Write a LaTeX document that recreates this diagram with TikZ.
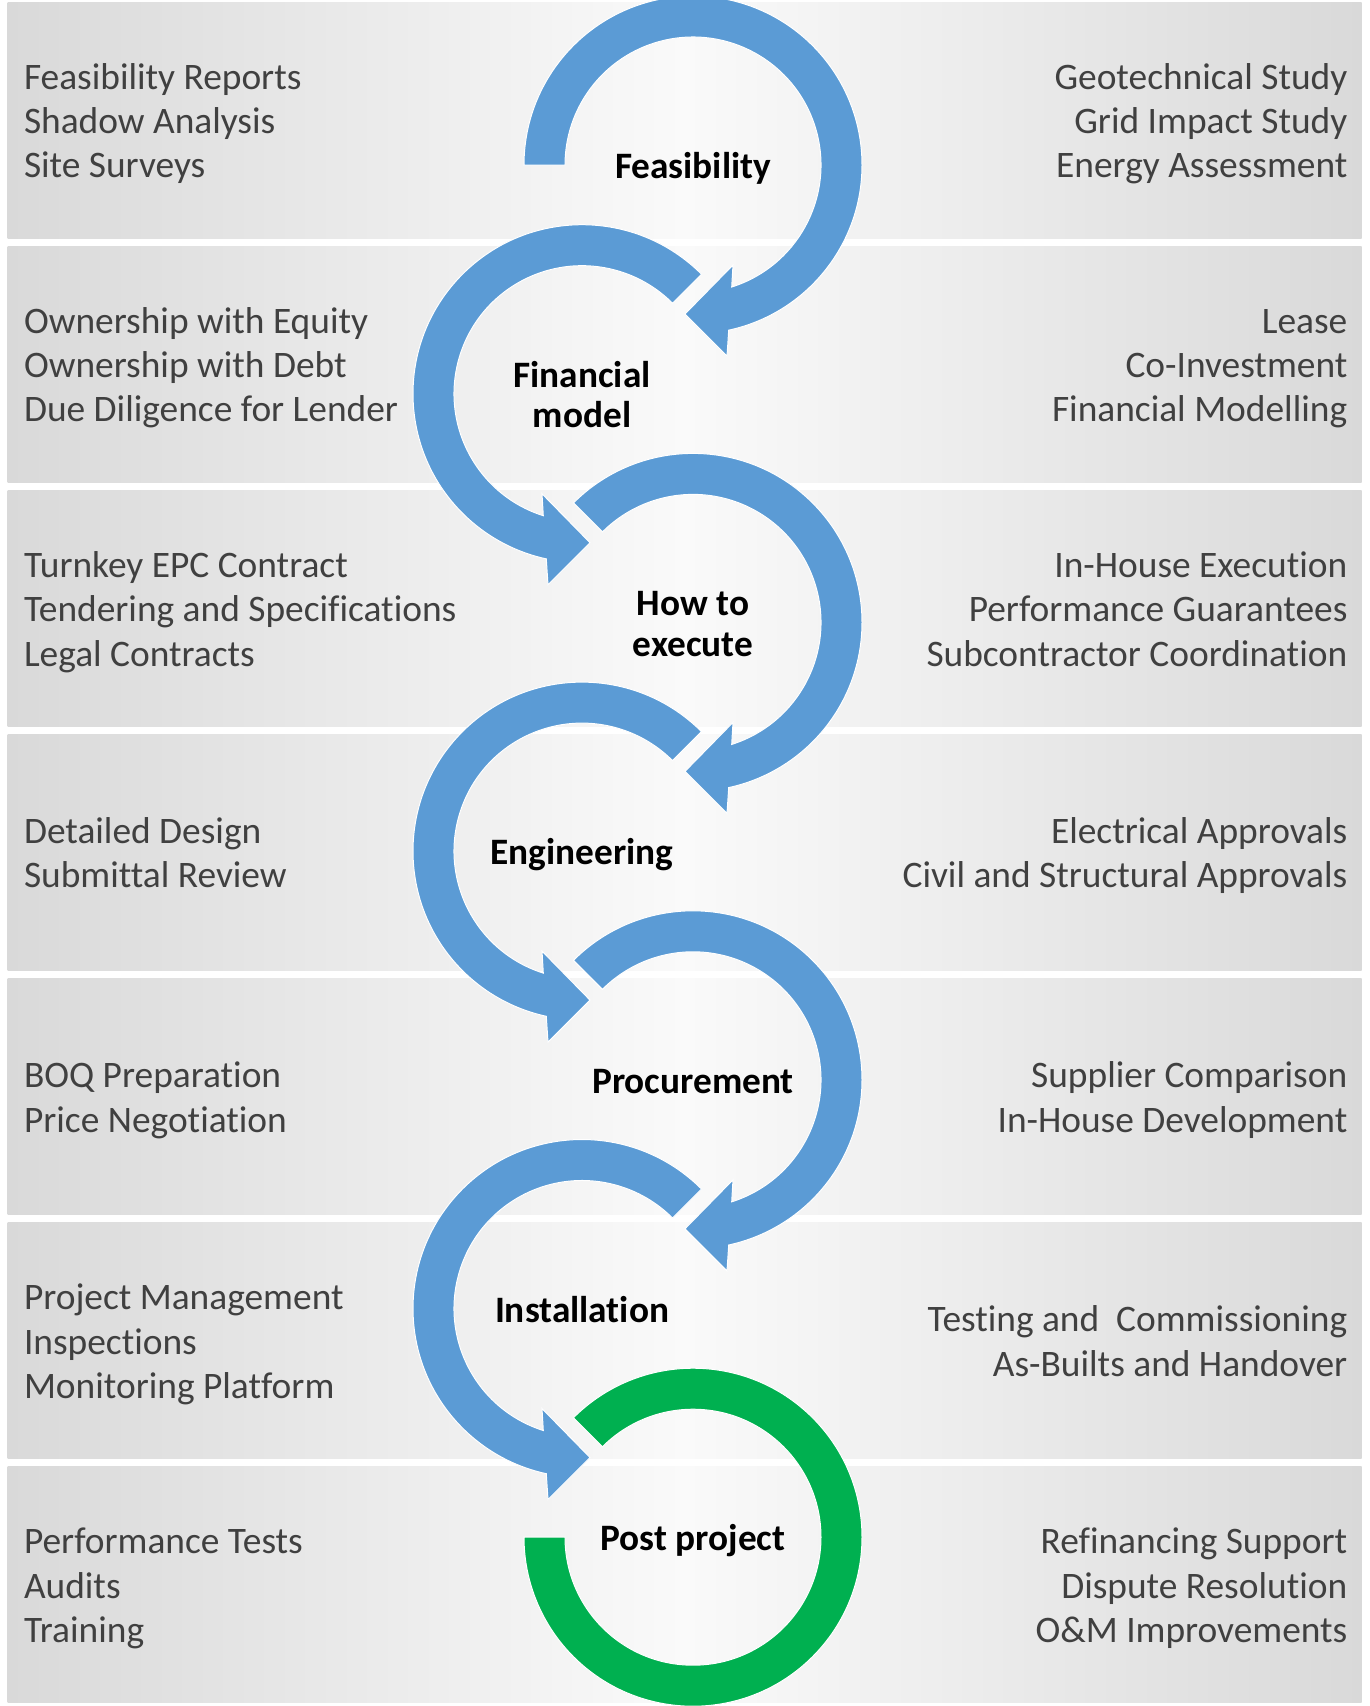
\documentclass[tikz,border=0pt]{standalone}
\usepackage{fontspec}
\setmainfont{Carlito}[Ligatures={NoCommon}]
\definecolor{loopblue}{HTML}{5B9BD5}
\definecolor{loopgreen}{HTML}{00B050}
\definecolor{sidetext}{HTML}{404040}
\definecolor{bandedge}{HTML}{D9D9D9}
\definecolor{bandmid}{HTML}{FAFAFA}

% struts giving every text line the same height and depth
\newcommand{\sidestrut}{\rule[-8.65pt]{0pt}{44.3pt}}
\newcommand{\stagestrut}{\rule[-8.65pt]{0pt}{40.3pt}}

% curved arrow round a stage: #1 centre, #2 start angle, #3 xscale (1 or -1)
\newcommand{\looparrow}[3]{%
  \fill[loopblue, draw=white, line width=1pt, shift={(#1)}, xscale=#3]
    (#2:169) arc[start angle=#2, end angle=-77.8, radius=169]
    -- (34,-191) -- (-8,-149) -- (40,-100)
    -- (-72.4:128) arc[start angle=-72.4, end angle=#2, radius=128] -- cycle;}

\begin{document}
\begin{tikzpicture}[x=1pt,y=1pt,
  band/.style={left color=bandedge, right color=bandedge, middle color=bandmid},
  sidefont/.style={font=\fontsize{37.4}{44.3}\selectfont, text=sidetext, inner sep=0pt},
  lefttext/.style={sidefont, anchor=west, align=left},
  righttext/.style={sidefont, anchor=east, align=right},
  stage/.style={font=\bfseries\fontsize{37.3}{40.3}\selectfont, text=black,
                align=center, inner sep=0pt, yshift=-2pt}]

\useasboundingbox (0,0) rectangle (1369,-1706);
\fill[white] (0,0) rectangle (1369,-1706);

% horizontal bands
\foreach \k in {0,...,6}
  \shade[band] (7.5,{-2-244.1*\k}) rectangle (1361.7,{-238-244.1*\k});

% stage centres
\coordinate (c1) at (693,-165);
\coordinate (c2) at (582,-393.7);
\coordinate (c3) at (693,-622.4);
\coordinate (c4) at (582,-851.1);
\coordinate (c5) at (693,-1079.8);
\coordinate (c6) at (582,-1308.5);
\coordinate (c7) at (693,-1537.2);

% arrows from stage to stage
\looparrow{c1}{180}{1}
\looparrow{c2}{135}{-1}
\looparrow{c3}{135}{1}
\looparrow{c4}{135}{-1}
\looparrow{c5}{135}{1}
\looparrow{c6}{135}{-1}

% final open ring
\fill[loopgreen, draw=white, line width=1pt, shift={(c7)}]
  (135:169) arc[start angle=135, end angle=-180, radius=169]
  -- (-180:128) arc[start angle=-180, end angle=135, radius=128] -- cycle;

% stage labels
\node[stage] (s1) at (c1) {\stagestrut Feasibility};
\node[stage] (s2) at (c2) {\stagestrut Financial\\\stagestrut model};
\node[stage] (s3) at (c3) {\stagestrut How to\\\stagestrut execute};
\node[stage] (s4) at (c4) {\stagestrut Engineering};
\node[stage] (s5) at (c5) {\stagestrut Procurement};
\node[stage] (s6) at (c6) {\stagestrut Installation};
\node[stage] (s7) at (c7) {\stagestrut Post project};

% left-hand lists
\node[lefttext] (l1) at (23.8,-120) {\sidestrut Feasibility Reports\\\sidestrut Shadow Analysis\\\sidestrut Site Surveys};
\node[lefttext] (l2) at (23.8,-364.1) {\sidestrut Ownership with Equity\\\sidestrut Ownership with Debt\\\sidestrut Due Diligence for Lender};
\node[lefttext] (l3) at (23.8,-608.2) {\sidestrut Turnkey EPC Contract\\\sidestrut Tendering and Specifications\\\sidestrut Legal Contracts};
\node[lefttext] (l4) at (23.8,-852.3) {\sidestrut Detailed Design\\\sidestrut Submittal Review};
\node[lefttext] (l5) at (23.8,-1096.4) {\sidestrut BOQ Preparation\\\sidestrut Price Negotiation};
\node[lefttext] (l6) at (23.8,-1340.5) {\sidestrut Project Management\\\sidestrut Inspections\\\sidestrut Monitoring Platform};
\node[lefttext] (l7) at (23.8,-1584.6) {\sidestrut Performance Tests\\\sidestrut Audits\\\sidestrut Training};

% right-hand lists
\node[righttext] (r1) at (1347.5,-120) {\sidestrut Geotechnical Study\\\sidestrut Grid Impact Study\\\sidestrut Energy Assessment};
\node[righttext] (r2) at (1347.5,-364.1) {\sidestrut Lease\\\sidestrut Co-Investment\\\sidestrut Financial Modelling};
\node[righttext] (r3) at (1347.5,-608.2) {\sidestrut In-House Execution\\\sidestrut Performance Guarantees\\\sidestrut Subcontractor Coordination};
\node[righttext] (r4) at (1347.5,-852.3) {\sidestrut Electrical Approvals\\\sidestrut Civil and Structural Approvals};
\node[righttext] (r5) at (1347.5,-1096.4) {\sidestrut Supplier Comparison\\\sidestrut In-House Development};
\node[righttext] (r6) at (1347.5,-1340.5) {\sidestrut Testing and~ Commissioning\\\sidestrut As-Builts and Handover};
\node[righttext] (r7) at (1347.5,-1584.6) {\sidestrut Refinancing Support\\\sidestrut Dispute Resolution\\\sidestrut O\&M Improvements};
\end{tikzpicture}
\end{document}
